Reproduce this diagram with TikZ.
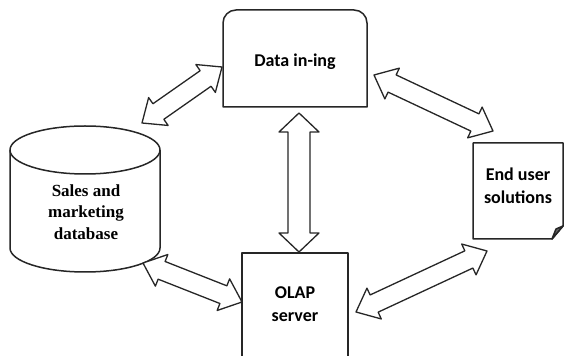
\documentclass[tikz,border=0pt]{standalone}
\usepackage{fontspec}
\setmainfont{Liberation Serif}
\newfontfamily\sansf{Carlito}
\usetikzlibrary{calc}
\tikzset{
  boxline/.style={draw=black!85, line width=1.5pt, line join=round},
  arrowline/.style={draw=black!85, line width=1.3pt, line join=round, fill=white},
  sanslabel/.style={font=\sansf\bfseries\fontsize{18}{23}\selectfont, align=center, inner sep=0pt},
  seriflabel/.style={font=\bfseries\fontsize{17}{21.5}\selectfont, align=center, inner sep=0pt}
}
% #1 start, #2 end, #3 head length, #4 head half width, #5 shaft half width
\newcommand\dblarrow[5]{%
  \draw[arrowline] (#1)
    -- ($(#1)!#3!(#2)!#4!90:(#2)$)
    -- ($(#1)!#3!(#2)!#5!90:(#2)$)
    -- ($(#2)!#3!(#1)!#5!-90:(#1)$)
    -- ($(#2)!#3!(#1)!#4!-90:(#1)$)
    -- (#2)
    -- ($(#2)!#3!(#1)!#4!90:(#1)$)
    -- ($(#2)!#3!(#1)!#5!90:(#1)$)
    -- ($(#1)!#3!(#2)!#5!-90:(#2)$)
    -- ($(#1)!#3!(#2)!#4!-90:(#2)$)
    -- cycle;}
\begin{document}
\begin{tikzpicture}[x=1pt,y=1pt]
\clip (0,0) rectangle (565,356);
\fill[white] (0,0) rectangle (565,356);

% Data in-ing box (rounded top corners)
\node[sanslabel] (data) at (295,294) {Data in-ing};
\draw[boxline] (223,249) -- (223,333) to[out=90,in=180] (236,346) -- (354,346)
  to[out=0,in=90] (367,333) -- (367,249) -- cycle;

% Cylinder
\node[seriflabel] (db) at (86,144) {Sales and\\marketing\\database};
\draw[boxline] (10,206) -- (10,108) arc[start angle=180, end angle=360, x radius=75, y radius=24] -- (160,206);
\draw[boxline] (85,206) ellipse [x radius=75, y radius=24];

% End user document
\node[sanslabel] (end) at (518,170.5) {End user\\solutions};
\draw[boxline] (473,213) -- (563,213) -- (563,130) -- (552,117) -- (473,117) -- cycle;
\draw[boxline, fill=black!60] (552,117) -- (556,127) -- (563,130) -- cycle;

% OLAP server
\node[sanslabel] (olap) at (295,52) {OLAP\\server};
\draw[boxline] (242,-5) rectangle (348,103);

% arrow end points
\coordinate (v1) at (299,243);
\coordinate (v2) at (299,104);
\coordinate (a1) at (142,233);
\coordinate (a2) at (222,289);
\coordinate (b1) at (374,281);
\coordinate (b2) at (493,225);
\coordinate (c1) at (143,93);
\coordinate (c2) at (242,54);
\coordinate (d1) at (356,44);
\coordinate (d2) at (487,105);

\dblarrow{v1}{v2}{19pt}{20pt}{11pt}
\dblarrow{a1}{a2}{20pt}{17pt}{9.5pt}
\dblarrow{b1}{b2}{20pt}{17pt}{9.5pt}
\dblarrow{c1}{c2}{20pt}{17pt}{9.5pt}
\dblarrow{d1}{d2}{20pt}{17pt}{9.5pt}
\end{tikzpicture}
\end{document}
